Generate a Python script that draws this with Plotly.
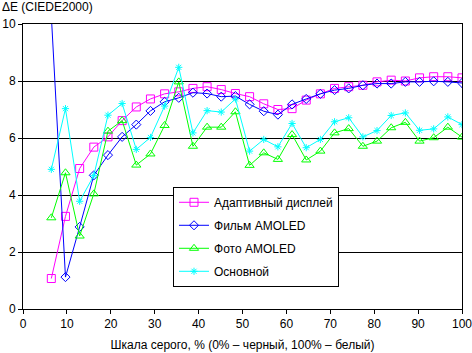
import plotly.graph_objects as go

# x positions: gray levels (%)
gray = [k * 100 / 31 for k in range(2, 32)]

adaptive = [1.07, 3.25, 4.93, 5.68, 6.04, 6.61, 7.09, 7.37, 7.55, 7.62,
            7.74, 7.80, 7.70, 7.56, 7.45, 7.20, 7.00, 7.03, 7.33, 7.55,
            7.74, 7.80, 7.85, 7.97, 8.03, 8.00, 8.11, 8.15, 8.15, 8.11]
film = [10.3, 1.12, 2.88, 4.69, 5.40, 6.04, 6.47, 6.95, 7.27, 7.41,
        7.59, 7.56, 7.45, 7.47, 7.18, 6.94, 6.82, 7.18, 7.37, 7.55,
        7.68, 7.74, 7.85, 7.91, 7.91, 7.97, 7.97, 7.99, 7.97, 7.93]
photo = [3.20, 4.78, 2.56, 4.04, 6.24, 6.61, 5.05, 5.44, 6.44, 7.97,
         5.71, 6.38, 6.38, 6.92, 5.04, 5.48, 5.25, 6.12, 5.23, 5.54,
         6.18, 6.33, 5.71, 5.89, 6.36, 6.55, 5.89, 6.01, 6.38, 6.03]
basic = [4.90, 7.03, 3.78, 4.68, 6.80, 7.21, 5.60, 6.02, 7.12, 8.48,
         6.18, 6.96, 6.91, 7.37, 5.54, 5.95, 5.69, 6.51, 5.66, 5.95,
         6.57, 6.71, 6.04, 6.26, 6.79, 6.88, 6.27, 6.32, 6.74, 6.47]

names = ["Адаптивный дисплей", "Фильм AMOLED", "Фото AMOLED", "Основной"]
series = [adaptive, film, photo, basic]
colors = ["#FF00FF", "#0000FF", "#00FF00", "#00FFFF"]
symbols = ["square-open", "diamond-open", "triangle-up-open", "asterisk-open"]
sizes = [8, 7, 8, 6]

FONT = "Liberation Sans, Arial, sans-serif"

fig = go.Figure()
for i, (nm, ys, c, sym, sz) in enumerate(zip(names, series, colors, symbols, sizes)):
    fig.add_trace(go.Scatter(
        x=gray, y=ys, name=nm, mode="lines+markers",
        legendgroup=f"g{i}",
        line=dict(color=c, width=1),
        marker=dict(symbol=sym, size=sz, color=c, line=dict(color=c, width=1)),
    ))

fig.update_layout(
    width=472, height=353,
    margin=dict(l=23, r=10, t=24, b=44),
    paper_bgcolor="white", plot_bgcolor="white",
    font=dict(family=FONT, size=12, color="black"),
    showlegend=True,
    legend=dict(
        x=0.3417, y=0.4288, xanchor="left", yanchor="top",
        bgcolor="white", bordercolor="black", borderwidth=1,
        font=dict(family=FONT, size=12, color="black"),
        tracegroupgap=4,
    ),
    xaxis=dict(
        range=[0, 100], tickvals=list(range(0, 101, 10)),
        showgrid=False, zeroline=False, automargin=False,
        ticklabeloverflow="allow",
        showline=True, linecolor="black", linewidth=1, mirror=True,
        ticks="outside", ticklen=4, tickcolor="black",
        title=dict(text="Шкала серого, % (0% – черный, 100% – белый)",
                   font=dict(family=FONT, size=12), standoff=10),
    ),
    yaxis=dict(
        range=[0, 10], tickvals=[0, 2, 4, 6, 8, 10],
        showgrid=True, gridcolor="black", gridwidth=1, zeroline=False,
        automargin=False, ticklabeloverflow="allow",
        showline=True, linecolor="black", linewidth=1, mirror=True,
        ticks="outside", ticklen=4, tickcolor="black",
    ),
    annotations=[dict(
        text="ΔE (CIEDE2000)", xref="paper", yref="paper",
        x=-23.3 / 439, y=1 + 17 / 285, xanchor="left", yanchor="middle",
        showarrow=False, font=dict(family=FONT, size=12, color="black"),
    )],
)

fig.write_html("out.html")
